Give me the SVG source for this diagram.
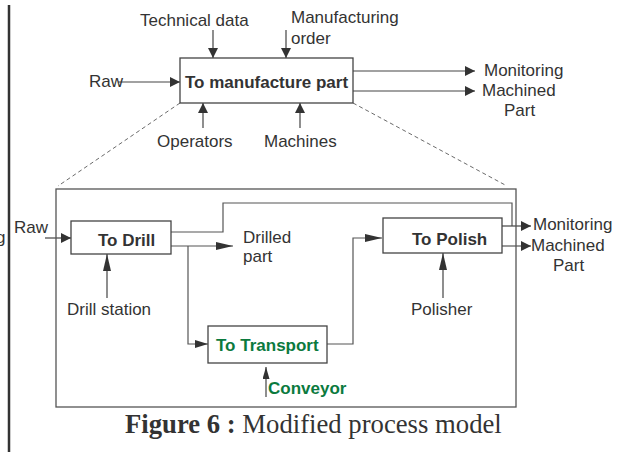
<svg xmlns="http://www.w3.org/2000/svg" width="622" height="452" viewBox="0 0 622 452">
<style>
text{font-family:"Liberation Sans",Arial,sans-serif;font-size:17px;fill:#333}
.b{font-weight:bold}
.g{fill:#0b7a3e;font-weight:bold}
.box{fill:#fff;stroke:#444;stroke-width:1.3}
.ln{fill:none;stroke:#444;stroke-width:1.2}
.il{fill:none;stroke:#555;stroke-width:1.2}
.dash{fill:none;stroke:#444;stroke-width:0.8;stroke-dasharray:4 3}
</style>
<defs>
<marker id="a" markerUnits="userSpaceOnUse" markerWidth="10" markerHeight="10" refX="10" refY="5" orient="auto"><path d="M0,0L10,5L0,10z" fill="#333"/></marker>
<marker id="n" markerUnits="userSpaceOnUse" markerWidth="17" markerHeight="8" refX="17" refY="4" orient="auto"><path d="M0,0L17,4L0,8z" fill="#333"/></marker>
<marker id="m" markerUnits="userSpaceOnUse" markerWidth="13" markerHeight="8" refX="13" refY="4" orient="auto"><path d="M0,0L13,4L0,8z" fill="#333"/></marker>
<marker id="s" markerUnits="userSpaceOnUse" markerWidth="12" markerHeight="7" refX="12" refY="3.5" orient="auto"><path d="M0,0L12,3.5L0,7z" fill="#333"/></marker>
</defs>
<line x1="9" y1="5" x2="9" y2="452" stroke="#333" stroke-width="2.5"/>
<g id="connectors">
<path class="ln" d="M213,30V58" marker-end="url(#a)"/>
<path class="ln" d="M286,30V58" marker-end="url(#a)"/>
<path class="ln" d="M118,82H180" marker-end="url(#a)"/>
<path class="ln" d="M203,128V103" marker-end="url(#a)"/>
<path class="ln" d="M300,128V103" marker-end="url(#a)"/>
<path class="ln" d="M353,71H475" marker-end="url(#a)"/>
<path class="ln" d="M353,91H475" marker-end="url(#a)"/>
<path class="dash" d="M180,103L58,186"/>
<path class="dash" d="M353,103L507,186"/>
<path class="ln" d="M45,238H71" marker-end="url(#a)"/>
<path class="il" d="M171,232H223V203H512V226"/>
<path class="ln" d="M502,226H531" marker-end="url(#a)"/>
<path class="il" d="M171,246H233" marker-end="url(#n)"/>
<path class="il" d="M188,246V344H208" marker-end="url(#m)"/>
<path class="il" d="M327,344H353V238H382" marker-end="url(#n)"/>
<path class="il" d="M502,246H531" marker-end="url(#a)"/>
<path class="ln" d="M107,298V254" marker-end="url(#n)"/>
<path class="ln" d="M443,298V253" marker-end="url(#n)"/>
<path class="ln" d="M266,397V367" marker-end="url(#s)"/>
</g>
<g id="top-labels">
<text x="140" y="26">Technical data</text>
<text x="291" y="23">Manufacturing</text>
<text x="291" y="44">order</text>
<text x="89" y="87">Raw</text>
<text x="157" y="147">Operators</text>
<text x="264" y="147">Machines</text>
<text x="484" y="76">Monitoring</text>
<text x="482" y="96">Machined</text>
<text x="504" y="116">Part</text>
</g>
<g id="manufacture">
<rect class="box" x="180" y="58" width="173" height="45"/>
<text class="b" x="266.5" y="88" text-anchor="middle">To manufacture part</text>
</g>
<g id="detail">
<rect x="56" y="189" width="460" height="218" fill="none" stroke="#555" stroke-width="1.3"/>
</g>
<g id="drill">
<rect class="box" x="71" y="221" width="100" height="33"/>
<text class="b" x="98" y="246">To Drill</text>
</g>
<g id="polish">
<rect class="box" x="383" y="218" width="119" height="35"/>
<text class="b" x="412" y="245">To Polish</text>
</g>
<g id="transport">
<rect class="box" x="208" y="326" width="119" height="37"/>
<text class="g" x="216" y="351">To Transport</text>
</g>
<g id="inner-labels">
<text x="-4" y="243">g</text>
<text x="14" y="233">Raw</text>
<text x="243" y="243">Drilled</text>
<text x="243" y="262">part</text>
<text x="67" y="315">Drill station</text>
<text x="411" y="315">Polisher</text>
<text class="g" x="268" y="394">Conveyor</text>
<text x="533" y="230">Monitoring</text>
<text x="531" y="251">Machined</text>
<text x="553" y="271">Part</text>
</g>
<text x="125" y="433" style="font-family:'Liberation Serif','Times New Roman',serif;font-size:26.7px"><tspan font-weight="bold">Figure 6 :</tspan> Modified process model</text>
</svg>
